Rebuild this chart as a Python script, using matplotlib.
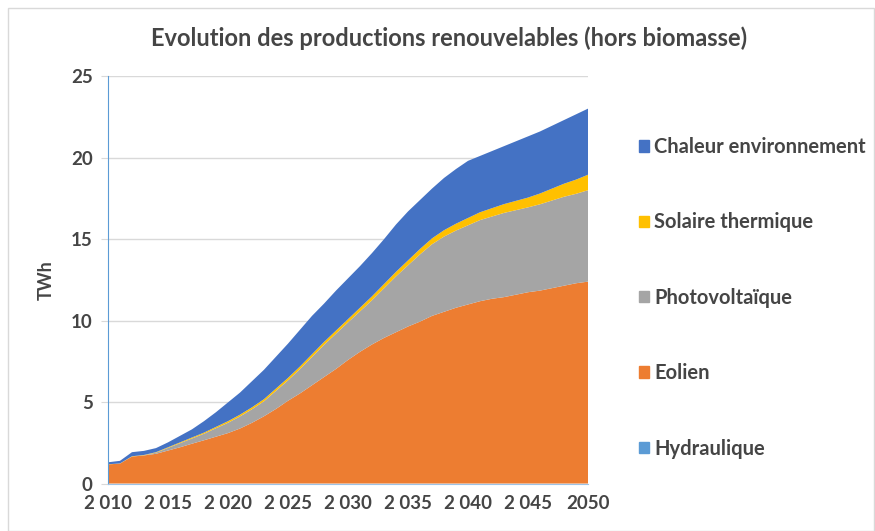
import matplotlib.pyplot as plt
from matplotlib.patches import Patch, Rectangle

# années et productions (TWh)
annees = list(range(2010, 2051))

hydraulique = [0.03] * 41

eolien = [1.17, 1.22, 1.65, 1.72, 1.82, 2.02, 2.22, 2.44, 2.65, 2.87,
          3.09, 3.37, 3.72, 4.12, 4.57, 5.07, 5.52, 6.02, 6.52, 7.02,
          7.57, 8.07, 8.52, 8.92, 9.27, 9.62, 9.92, 10.27, 10.52, 10.77,
          10.97, 11.17, 11.32, 11.42, 11.57, 11.72, 11.82, 11.97, 12.12, 12.27,
          12.37]

photovoltaique = [0.00, 0.00, 0.00, 0.01, 0.07, 0.16, 0.25, 0.32, 0.40, 0.52,
                  0.63, 0.74, 0.83, 0.92, 1.11, 1.25, 1.49, 1.73, 1.97, 2.16,
                  2.30, 2.48, 2.71, 3.04, 3.42, 3.75, 4.12, 4.39, 4.61, 4.73,
                  4.85, 4.97, 5.04, 5.16, 5.18, 5.20, 5.29, 5.37, 5.45, 5.48,
                  5.60]

solaire_thermique = [0.01, 0.01, 0.02, 0.02, 0.03, 0.04, 0.05, 0.06, 0.07, 0.08,
                     0.10, 0.11, 0.12, 0.13, 0.14, 0.15, 0.16, 0.17, 0.18, 0.19,
                     0.20, 0.22, 0.24, 0.26, 0.28, 0.30, 0.33, 0.36, 0.39, 0.42,
                     0.45, 0.48, 0.51, 0.54, 0.57, 0.60, 0.66, 0.73, 0.80, 0.87,
                     0.95]

chaleur_env = [0.12, 0.16, 0.25, 0.25, 0.25, 0.30, 0.40, 0.50, 0.70, 0.90,
               1.15, 1.35, 1.60, 1.80, 1.95, 2.10, 2.25, 2.35, 2.35, 2.45,
               2.50, 2.55, 2.65, 2.75, 2.90, 3.00, 3.00, 3.05, 3.20, 3.35,
               3.50, 3.45, 3.50, 3.55, 3.65, 3.75, 3.80, 3.85, 3.90, 4.00,
               4.05]

noms = ["Hydraulique", "Eolien", "Photovoltaïque", "Solaire thermique", "Chaleur environnement"]
couleurs = ["#5B9BD5", "#ED7D31", "#A5A5A5", "#FFC000", "#4472C4"]

ticks_x = [2010, 2015, 2020, 2025, 2030, 2035, 2040, 2045, 2050]
labels_x = ["2 010", "2 015", "2 020", "2 025", "2 030", "2 035", "2 040", "2 045", "2050"]

plt.rcParams['font.family'] = ['Lato', 'DejaVu Sans']
gris = '#454545'

fig = plt.figure(figsize=(8.75, 5.31), dpi=100)
ax = fig.add_axes([0.1234, 0.0885, 0.5486, 0.7684])

ax.stackplot(annees, hydraulique, eolien, photovoltaique, solaire_thermique, chaleur_env,
             colors=couleurs, linewidth=0)

ax.set_xlim(2010, 2050)
ax.set_ylim(0, 25)
ax.set_yticks([0, 5, 10, 15, 20, 25])
ax.set_xticks(ticks_x)
ax.set_xticklabels(labels_x)
ax.grid(axis='y', color='#D9D9D9', linewidth=1)
ax.set_axisbelow(True)

ax.tick_params(axis='y', length=5, color='#D9D9D9', labelsize=13.5, labelcolor=gris, pad=6)
ax.tick_params(axis='x', length=0, labelsize=13.5, labelcolor=gris, pad=8)
for lab in ax.get_xticklabels() + ax.get_yticklabels():
    lab.set_fontweight('bold')

for s in ['top', 'right']:
    ax.spines[s].set_visible(False)
ax.spines['left'].set_color('#5B9BD5')
ax.spines['bottom'].set_color('#9DC3E6')

ax.set_ylabel("TWh", fontsize=13, color=gris, fontweight='bold', labelpad=12)

fig.text(0.513, 0.928, "Evolution des productions renouvelables (hors biomasse)",
         ha='center', va='center', fontsize=17, fontweight='bold', color=gris)

# légende à droite, du haut vers le bas
poignees = [Patch(color=c, label=n) for c, n in zip(couleurs[::-1], noms[::-1])]
leg = fig.legend(handles=poignees, loc='upper left', bbox_to_anchor=(0.71, 0.776),
                 frameon=False, fontsize=14.5, labelspacing=2.75,
                 handlelength=0.5, handleheight=0.5, handletextpad=0.25)
for t in leg.get_texts():
    t.set_color(gris)
    t.set_fontweight('bold')

# cadre du graphique
fig.patches.append(Rectangle((0.009, 0.0), 0.99, 0.985, transform=fig.transFigure,
                             fill=False, edgecolor='#D9D9D9', linewidth=1))

fig.savefig("out.png", dpi=100)
